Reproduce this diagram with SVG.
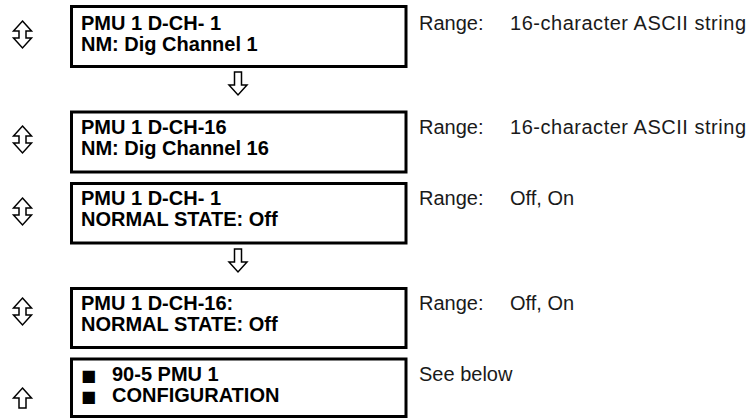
<svg xmlns="http://www.w3.org/2000/svg" width="750" height="419" viewBox="0 0 750 419">
<style>
.box{fill:#fff;stroke:#000;stroke-width:3}
.t{font-family:"Liberation Sans",Arial,sans-serif;font-size:20px;font-weight:bold;fill:#000}
.r{font-family:"Liberation Sans",Arial,sans-serif;font-size:20px;fill:#1a1a1a}
.arr{fill:#fff;stroke:#000;stroke-width:1.5;stroke-linejoin:miter}
.sq{font-family:"DejaVu Sans","Liberation Sans",sans-serif;font-size:16px;fill:#000}
</style>
<defs>
<path id="ud" class="arr" d="M0,0 L9,10 L3.5,10 L3.5,17 L9,17 L0,27 L-9,17 L-3.5,17 L-3.5,10 L-9,10 Z"/>
<path id="dn" class="arr" d="M-3.5,0 L3.5,0 L3.5,13 L9,13 L0,23 L-9,13 L-3.5,13 Z"/>
<path id="up" class="arr" d="M0,0 L9,10 L3.5,10 L3.5,20 L-3.5,20 L-3.5,10 L-9,10 Z"/>
</defs>
<g id="connectors">
<use href="#dn" transform="translate(238,72)"/>
<use href="#dn" transform="translate(238,249)"/>
</g>
<g id="node1">
<use href="#ud" transform="translate(22.5,21)"/>
<rect class="box" x="71.5" y="6.5" width="334.5" height="60"/>
<text class="t" x="81" y="30">PMU 1 D-CH- 1</text>
<text class="t" x="81" y="51">NM: Dig Channel 1</text>
<text class="r" x="419" y="30">Range:</text>
<text class="r" x="510" y="30" textLength="236" lengthAdjust="spacing">16-character ASCII string</text>
</g>
<g id="node2">
<use href="#ud" transform="translate(22.5,126)"/>
<rect class="box" x="71.5" y="112" width="334.5" height="60"/>
<text class="t" x="81" y="134">PMU 1 D-CH-16</text>
<text class="t" x="81" y="155">NM: Dig Channel 16</text>
<text class="r" x="419" y="134">Range:</text>
<text class="r" x="510" y="134" textLength="236" lengthAdjust="spacing">16-character ASCII string</text>
</g>
<g id="node3">
<use href="#ud" transform="translate(22.5,198)"/>
<rect class="box" x="71.5" y="183.5" width="334.5" height="59.5"/>
<text class="t" x="81" y="205">PMU 1 D-CH- 1</text>
<text class="t" x="81" y="226">NORMAL STATE: Off</text>
<text class="r" x="419" y="205">Range:</text>
<text class="r" x="510" y="205">Off, On</text>
</g>
<g id="node4">
<use href="#ud" transform="translate(22.5,298)"/>
<rect class="box" x="71.5" y="288.5" width="334.5" height="59"/>
<text class="t" x="81" y="310">PMU 1 D-CH-16:</text>
<text class="t" x="81" y="331">NORMAL STATE: Off</text>
<text class="r" x="419" y="310">Range:</text>
<text class="r" x="510" y="310">Off, On</text>
</g>
<g id="node5">
<use href="#up" transform="translate(22.5,388)"/>
<rect class="box" x="71.5" y="359" width="334.5" height="57.5"/>
<text class="sq" x="81" y="381">■</text>
<text class="t" x="112" y="381">90-5 PMU 1</text>
<text class="sq" x="81" y="402">■</text>
<text class="t" x="112" y="402">CONFIGURATION</text>
<text class="r" x="419" y="381">See below</text>
</g>
</svg>
